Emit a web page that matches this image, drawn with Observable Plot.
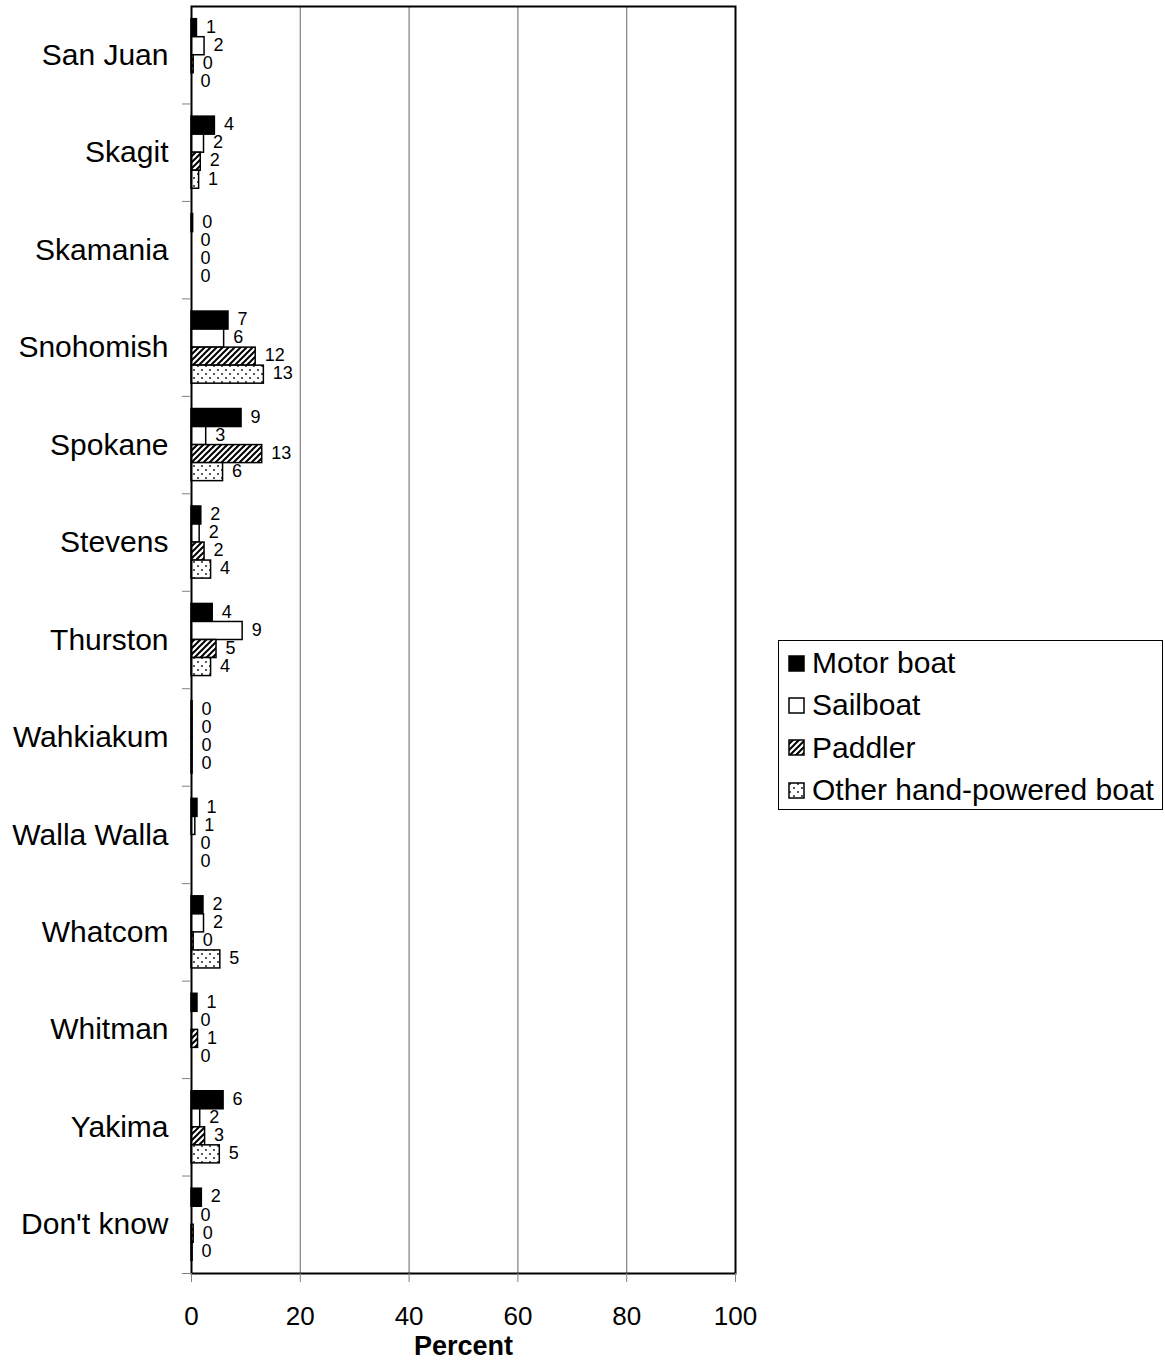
<!DOCTYPE html>
<html>
<head>
<meta charset="utf-8">
<script src="https://cdn.jsdelivr.net/npm/d3@7"></script>
<script src="https://cdn.jsdelivr.net/npm/@observablehq/plot@0.6"></script>
<style>
  body { margin: 0; background: #fff; font-family: Arial, "Liberation Sans", sans-serif; }
  #wrap { position: relative; width: 1165px; height: 1369px; }
  #chart { position: absolute; left: 0; top: 0; }
  #legend { position: absolute; left: 778px; top: 640px; width: 385px; height: 170px; box-sizing: border-box;
            border: 1px solid #000; padding-top: 1px; }
  #legend .item { height: 42.3px; display: flex; align-items: center; font-size: 30px; color: #000; }
  #legend .item svg { margin-left: 9px; margin-right: 7px; flex: none; }
</style>
</head>
<body>
<svg width="0" height="0" style="position:absolute">
  <defs>
    <pattern id="hatch" patternUnits="userSpaceOnUse" width="6" height="6">
      <rect width="6" height="6" fill="#fff"/>
      <path d="M-1.5,1.5 l3,-3 M0,6 l6,-6 M4.5,7.5 l3,-3" stroke="#000" stroke-width="2"/>
    </pattern>
    <pattern id="dots" patternUnits="userSpaceOnUse" width="8" height="8">
      <rect width="8" height="8" fill="#fff"/>
      <circle cx="2" cy="2" r="1" fill="#222"/>
      <circle cx="6" cy="6" r="1" fill="#222"/>
    </pattern>
  </defs>
</svg>
<div id="wrap">
  <div id="chart"></div>
  <div id="legend"></div>
</div>
<script>
const counties = ["San Juan", "Skagit", "Skamania", "Snohomish", "Spokane", "Stevens", "Thurston",
                  "Wahkiakum", "Walla Walla", "Whatcom", "Whitman", "Yakima", "Don't know"];
const types = ["Motor boat", "Sailboat", "Paddler", "Other hand-powered boat"];
const motorBoat = [1.0, 4.3, 0.3, 6.8, 9.2, 1.8, 3.9, 0.2, 1.1, 2.2, 1.1, 5.9, 1.9];
const sailboat  = [2.4, 2.3, 0,   6.0, 2.7, 1.5, 9.4, 0.2, 0.7, 2.3, 0,   1.6, 0];
const paddler   = [0.4, 1.7, 0,   11.8, 13.0, 2.4, 4.6, 0.2, 0, 0.4, 1.2, 2.5, 0.4];
const otherHand = [0,   1.4, 0,   13.3, 5.8, 3.6, 3.6, 0.2, 0,   5.3, 0,   5.2, 0.2];
const xTicks = [0, 20, 40, 60, 80, 100];
const fills = ["#000", "#fff", "url(#hatch)", "url(#dots)"];

const series = [motorBoat, sailboat, paddler, otherHand];
const rows = counties.flatMap((c, i) => series.map((s, j) => ({county: c, i, type: types[j], j, value: s[i]})));

const slot0 = 0.13, slotH = 0.185;
const yTop = d => d.i + slot0 + d.j * slotH;

const chart = Plot.plot({
  width: 770,
  height: 1369,
  marginLeft: 191,
  marginRight: 35,
  marginTop: 6,
  marginBottom: 96,
  style: {fontFamily: "Arial, 'Liberation Sans', sans-serif", background: "white", color: "black"},
  x: {domain: [0, 100]},
  y: {domain: [0, counties.length], reverse: true},
  color: {type: "identity"},
  marks: [
    Plot.gridX(xTicks.slice(1, -1), {stroke: "#808080", strokeOpacity: 1, strokeWidth: 1.2}),
    Plot.rectX(rows.filter(d => d.value > 0), {
      x1: 0, x2: "value",
      y1: yTop, y2: d => yTop(d) + slotH,
      fill: d => fills[d.j], stroke: "#000", strokeWidth: 1.5
    }),
    Plot.text(rows, {
      x: "value", y: d => yTop(d) + slotH / 2,
      text: d => String(Math.round(d.value)),
      dx: 9, dy: -1, textAnchor: "start", fontSize: 18, fill: "#000"
    }),
    Plot.frame({stroke: "#000", strokeWidth: 2}),
    Plot.axisX(xTicks, {tickSize: 9, tickPadding: 24, fontSize: 26, label: null, stroke: "#808080"}),
    Plot.axisY(d3.range(1, counties.length + 1), {tickSize: 9, tickFormat: () => "", label: null, stroke: "#808080"}),
    Plot.axisY(counties.map((d, i) => i + 0.5), {
      tickSize: 0, tickPadding: 23, fontSize: 30, label: null,
      tickFormat: d => counties[Math.floor(d)]
    }),
    Plot.text(["Percent"], {frameAnchor: "bottom", lineAnchor: "middle", dy: 73, fontWeight: "bold", fontSize: 27, fill: "#000"})
  ]
});
document.getElementById("chart").appendChild(chart);

const legend = document.getElementById("legend");
types.forEach((t, j) => {
  const item = document.createElement("div");
  item.className = "item";
  item.innerHTML = `<svg width="17" height="17"><rect x="1" y="1" width="15" height="15" fill="${fills[j]}" stroke="#000" stroke-width="1.5"/></svg><span>${t}</span>`;
  legend.appendChild(item);
});
</script>
</body>
</html>
